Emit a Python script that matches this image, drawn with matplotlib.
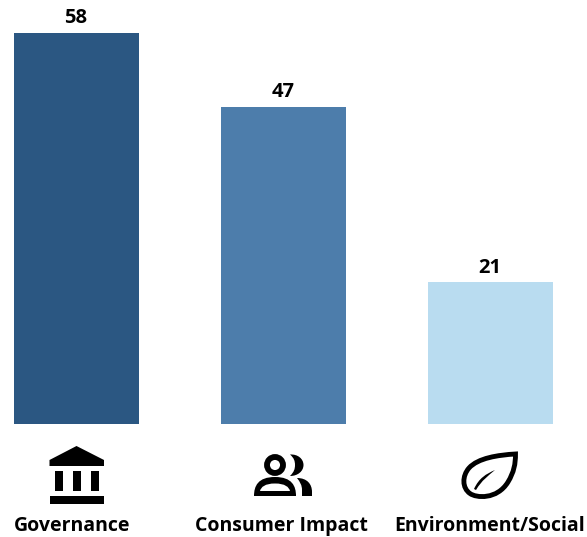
import numpy as np
import matplotlib
matplotlib.use("Agg")
import matplotlib.pyplot as plt
from matplotlib.patches import Circle, PathPatch, Polygon, Rectangle
from matplotlib.path import Path

categories = ["Governance", "Consumer Impact", "Environment/Social"]
counts = [58, 47, 21]
bar_colors = ["#2b5782", "#4d7dab", "#b9dcf0"]

W, H = 587, 537
plt.rcParams["font.family"] = ["Open Sans", "DejaVu Sans"]

fig = plt.figure(figsize=(W / 100, H / 100), dpi=100)

# bars sit 207 px apart, base at y=424, 58 reaches y=33
ax = fig.add_axes([0, (H - 424) / H, 1, 424 / H])
x = np.arange(len(categories))
ax.bar(x, counts, width=125 / 207, color=bar_colors)
ax.set_xlim(-76.5 / 207, (W - 76.5) / 207)
ax.set_ylim(0, 424 / (391 / 58))
ax.axis("off")
for xi, c in zip(x, counts):
    ax.annotate(str(c), (xi, c), xytext=(-0.5, 3.5), textcoords="offset points",
                ha="center", va="bottom", fontsize=14.5, fontweight="bold", color="#000000")

# icons and labels are placed in pixel coordinates
pix = fig.add_axes([0, 0, 1, 1], facecolor="none")
pix.set_xlim(0, W)
pix.set_ylim(H, 0)
pix.axis("off")

label_x = [72.5, 281.5, 489.5]
for lx, name in zip(label_x, categories):
    pix.text(lx, 526, name, ha="center", va="center", fontsize=14, fontweight="bold", color="#000000")

# bank
pix.add_patch(Polygon([(49.5, 466), (49.5, 460), (76.5, 446), (104, 460), (104, 466)], color="black", lw=0))
for cx in (55, 72.7, 90.7):
    pix.add_patch(Rectangle((cx, 471), 8.4, 19.5, color="black", lw=0))
pix.add_patch(Rectangle((49.5, 496), 54.5, 8, color="black", lw=0))

# people: front head ring and shoulders with a cut-out
pix.add_patch(Circle((275, 465), 8, fill=False, ec="black", lw=4.2))
M, L, C, Z = Path.MOVETO, Path.LINETO, Path.CURVE4, Path.CLOSEPOLY
body = Path(
    [(254, 496), (254, 486), (258, 477), (275, 477), (292, 477), (296, 486), (296, 496), (254, 496),
     (260, 491), (290, 491), (289, 487), (285, 483.5), (275, 483.5), (265, 483.5), (261, 487), (260, 491), (260, 491)],
    [M, C, C, C, C, C, C, Z,
     M, L, C, C, C, C, C, C, Z])
pix.add_patch(PathPatch(body, color="black", lw=0))
back_head = Path(
    [(290, 454.5), (298, 454), (303.5, 459), (303.5, 465), (303.5, 471), (298, 476), (290, 476),
     (294, 472), (295, 469), (295, 465), (295, 461), (294, 458), (290, 454.5)],
    [M, C, C, C, C, C, C, C, C, C, C, C, C])
pix.add_patch(PathPatch(back_head, color="black", lw=0))
back_body = Path(
    [(297, 478), (307, 478), (312, 484), (312, 492), (312, 496), (302, 496), (302, 490),
     (302, 485), (300, 482), (297, 478)],
    [M, C, C, C, L, L, L, C, C, C])
pix.add_patch(PathPatch(back_body, color="black", lw=0))

# leaf outline and vein
leaf = Path(
    [(515.5, 454), (498, 455), (478, 458), (469, 468),
     (462, 476), (462, 488), (470, 493.5),
     (476, 498), (497, 500), (508, 482),
     (514, 472), (515.5, 464), (515.5, 454), (515.5, 454)],
    [M, C, C, C, C, C, C, C, C, C, C, C, C, Z])
pix.add_patch(PathPatch(leaf, fill=False, ec="black", lw=3.5, joinstyle="miter"))
vein = Path([(474, 489), (479, 478), (486, 474), (495, 470),
             (488, 476), (482, 480), (476, 490), (474, 489)],
            [M, C, C, C, C, C, C, Z])
pix.add_patch(PathPatch(vein, color="black", lw=0))

fig.savefig("out.png", dpi=100)
